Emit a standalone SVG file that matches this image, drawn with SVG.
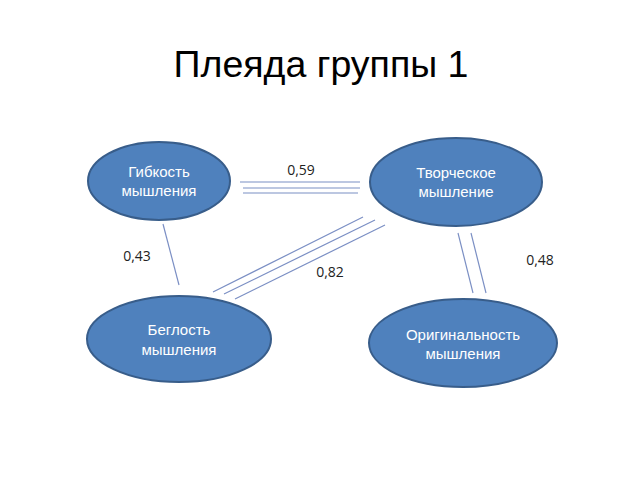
<svg xmlns="http://www.w3.org/2000/svg" width="640" height="480" viewBox="0 0 640 480">
<style>
.node{fill:#4f81bd;stroke:#385d8a;stroke-width:2}
.nt{fill:#fff;font-family:"Liberation Sans",Arial,sans-serif;font-size:15px;text-anchor:middle}
.lbl{fill:#222;font-family:"Open Sans","Liberation Sans",sans-serif;font-size:14px;text-anchor:middle}
.c line{stroke:#7b8fc4;stroke-width:1.2}
</style>
<rect width="640" height="480" fill="#fff"/>
<text x="321" y="77" text-anchor="middle" font-family="'Liberation Sans',Arial,sans-serif" font-size="37.5" fill="#000">Плеяда группы 1</text>
<g class="c" id="connectors">
<line x1="240" y1="182" x2="360" y2="182"/>
<line x1="243" y1="188" x2="360" y2="188"/>
<line x1="243" y1="193" x2="358" y2="193"/>
<line x1="163" y1="224" x2="179" y2="285"/>
<line x1="363" y1="217" x2="213" y2="292"/>
<line x1="375" y1="220" x2="224" y2="294"/>
<line x1="385" y1="225" x2="235" y2="299"/>
<line x1="458" y1="233" x2="473" y2="293"/>
<line x1="471" y1="233" x2="486" y2="293"/>
</g>
<g id="labels">
<text class="lbl" x="301" y="175">0,59</text>
<text class="lbl" x="137" y="261">0,43</text>
<text class="lbl" x="330" y="277">0,82</text>
<text class="lbl" x="540" y="265">0,48</text>
</g>
<g id="n1"><ellipse class="node" cx="159" cy="181" rx="71" ry="39"/><text class="nt" x="159" y="177">Гибкость</text><text class="nt" x="159" y="196">мышления</text></g>
<g id="n2"><ellipse class="node" cx="456" cy="182" rx="86" ry="44"/><text class="nt" x="456" y="178">Творческое</text><text class="nt" x="456" y="197">мышление</text></g>
<g id="n3"><ellipse class="node" cx="179" cy="339" rx="92" ry="43"/><text class="nt" x="179" y="335">Беглость</text><text class="nt" x="179" y="355">мышления</text></g>
<g id="n4"><ellipse class="node" cx="463" cy="343" rx="94" ry="44"/><text class="nt" x="463" y="340">Оригинальность</text><text class="nt" x="463" y="359">мышления</text></g>
</svg>
